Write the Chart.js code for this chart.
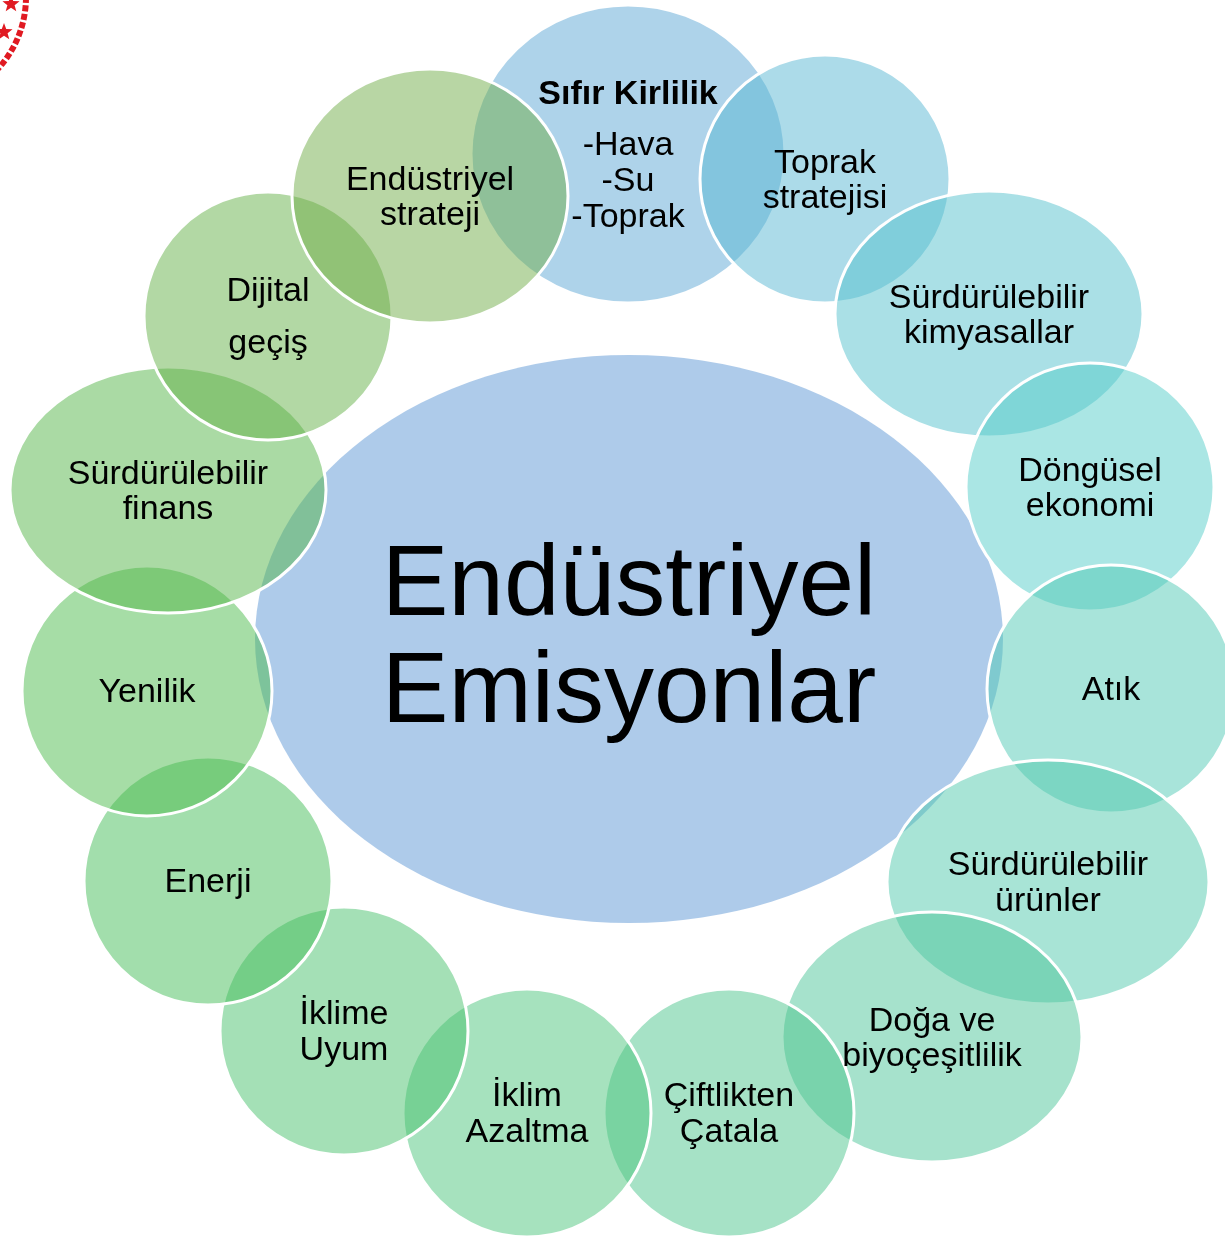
<!DOCTYPE html>
<html>
<head>
<meta charset="utf-8">
<script src="https://cdn.jsdelivr.net/npm/chart.js@4"></script>
<style>
  html, body { margin: 0; padding: 0; background: #fff; }
  #wrap { width: 1225px; height: 1239px; }
</style>
</head>
<body>
<div id="wrap"><canvas id="diagram"></canvas></div>
<script>
// Nodes of the diagram, in drawing order (later ones lie on top)
const nodeLabels = [
  ['Endüstriyel', 'Emisyonlar'],
  ['Sıfır Kirlilik', '-Hava', '-Su', '-Toprak'],
  ['Toprak', 'stratejisi'],
  ['Sürdürülebilir', 'kimyasallar'],
  ['Döngüsel', 'ekonomi'],
  ['Atık'],
  ['Sürdürülebilir', 'ürünler'],
  ['Doğa ve', 'biyoçeşitlilik'],
  ['Çiftlikten', 'Çatala'],
  ['İklim', 'Azaltma'],
  ['İklime', 'Uyum'],
  ['Enerji'],
  ['Yenilik'],
  ['Sürdürülebilir', 'finans'],
  ['Dijital', 'geçiş'],
  ['Endüstriyel', 'strateji']
]
// centre and half-axes of each ellipse, in the 1225 x 1239 diagram space
const nodeX  = [629, 628, 825, 989, 1090, 1111, 1048, 932, 729, 527, 344, 208, 147, 168, 268, 430]
const nodeY  = [639, 154, 179, 314, 487, 689, 882, 1037, 1113, 1113, 1031, 881, 691, 490, 316, 196]
const nodeRX = [374, 157, 125, 154, 124, 124, 161, 150, 125, 124, 124, 124, 125, 158, 124, 138]
const nodeRY = [284, 149, 124, 123, 124, 124, 122, 125, 124, 124, 124, 124, 125, 123, 124, 127]

// base colours, laid on with 50% opacity
const nodeColors = [
  [93, 151, 213], [93, 167, 213], [89, 183, 211], [85, 193, 205],
  [85, 205, 201], [81, 201, 181], [81, 201, 173], [77, 197, 153],
  [77, 197, 141], [77, 197, 125], [73, 193, 109], [69, 189, 89],
  [77, 187, 77], [85, 181, 73], [101, 177, 73], [113, 173, 73]
]
const lineGaps = [107, 36, 35, 35, 35, 36, 36, 35, 36, 36, 36, 36, 36, 35, 52, 35]

const FONT = '"Liberation Sans", Arial, sans-serif'

const ellipsePlugin = {
  id: 'ellipses',
  afterDatasetsDraw(chart) {
    const ctx = chart.ctx
    const xs = chart.scales.x
    const ys = chart.scales.y
    const meta = chart.getDatasetMeta(0)
    const pts = chart.data.datasets[0].data

    meta.data.forEach((el, i) => {
      const p = pts[i]
      const rx = Math.abs(xs.getPixelForValue(p.x + p.rx) - el.x)
      const ry = Math.abs(ys.getPixelForValue(p.y + p.ry) - el.y)
      const c = nodeColors[i]
      ctx.save()
      ctx.beginPath()
      ctx.ellipse(el.x, el.y, rx, ry, 0, 0, Math.PI * 2)
      ctx.fillStyle = `rgba(${c[0]},${c[1]},${c[2]},0.5)`
      ctx.fill()
      if (i > 0) {
        ctx.lineWidth = 3
        ctx.strokeStyle = '#ffffff'
        ctx.stroke()
      }
      ctx.restore()
    })

    // labels
    meta.data.forEach((el, i) => {
      const lines = nodeLabels[i]
      const gap = lineGaps[i]
      let offsets = lines.map((_, k) => k * gap)
      if (i === 1) offsets = lines.map((_, k) => k === 0 ? 0 : 15 + k * gap)
      const total = offsets[offsets.length - 1]
      ctx.save()
      ctx.fillStyle = '#000'
      ctx.textAlign = 'center'
      ctx.textBaseline = 'middle'
      lines.forEach((line, k) => {
        const size = i === 0 ? 100 : 34
        const weight = (i === 1 && k === 0) ? 'bold ' : ''
        ctx.font = `${weight}${size}px ${FONT}`
        ctx.fillText(line, el.x, el.y - total / 2 + offsets[k] + 2)
      })
      ctx.restore()
    })
  }
}

// fragment of the emblem cut off in the top left corner
const emblemPlugin = {
  id: 'emblem',
  afterDraw(chart) {
    const ctx = chart.ctx
    ctx.save()
    ctx.strokeStyle = '#e01a22'
    ctx.lineWidth = 6
    ctx.setLineDash([6, 2.5])
    ctx.beginPath()
    ctx.arc(-80, -3, 106, 0, Math.PI / 2)
    ctx.stroke()
    ctx.setLineDash([])
    ctx.fillStyle = '#e01a22'
    const star = (cx, cy, r) => {
      ctx.beginPath()
      for (let k = 0; k < 10; k++) {
        const a = -Math.PI / 2 + k * Math.PI / 5
        const rr = k % 2 === 0 ? r : r * 0.42
        ctx.lineTo(cx + rr * Math.cos(a), cy + rr * Math.sin(a))
      }
      ctx.closePath()
      ctx.fill()
    }
    star(11, 4, 9)
    star(4, 32, 9)
    ctx.restore()
  }
}

const points = nodeX.map((x, i) => ({ x, y: nodeY[i], rx: nodeRX[i], ry: nodeRY[i] }))

new Chart(document.getElementById('diagram'), {
  type: 'scatter',
  data: {
    datasets: [{
      data: points,
      pointRadius: 0,
      pointHoverRadius: 0
    }]
  },
  options: {
    responsive: true,
    maintainAspectRatio: false,
    animation: false,
    events: [],
    layout: { padding: 0 },
    plugins: { legend: { display: false }, tooltip: { enabled: false } },
    scales: {
      x: { type: 'linear', min: 0, max: 1225, display: false },
      y: { type: 'linear', min: 0, max: 1239, reverse: true, display: false }
    }
  },
  plugins: [ellipsePlugin, emblemPlugin]
})
</script>
</body>
</html>
